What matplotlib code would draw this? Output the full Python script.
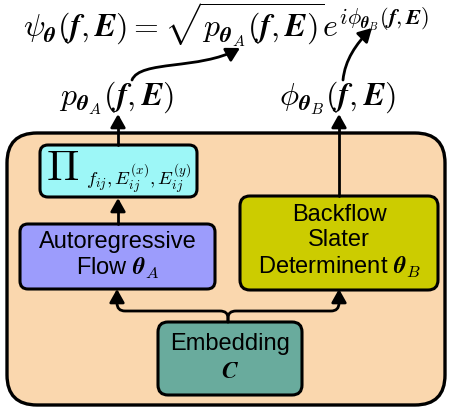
import matplotlib
matplotlib.use("Agg")
import matplotlib.pyplot as plt
from matplotlib.patches import FancyBboxPatch, FancyArrowPatch
from matplotlib.path import Path

plt.rcParams['mathtext.fontset'] = 'cm'
plt.rcParams['font.family'] = ['Liberation Sans', 'DejaVu Sans']

# labels of the diagram
title_eq = (r"$\psi_{\mathbfit{\theta}}(\mathbfit{f},\mathbfit{E})="
            r"\sqrt{p_{\mathbfit{\theta}_A}(\mathbfit{f},\mathbfit{E})}"
            r"e^{i\phi_{\mathbfit{\theta}_B}(\mathbfit{f},\mathbfit{E})}$")
p_label = r"$p_{\mathbfit{\theta}_A}(\mathbfit{f},\mathbfit{E})$"
phi_label = r"$\phi_{\mathbfit{\theta}_B}(\mathbfit{f},\mathbfit{E})$"
prod_symbol = r"$\Pi$"
prod_sub = r"$f_{ij},E_{ij}^{(x)},E_{ij}^{(y)}$"
flow_label = "Autoregressive\nFlow $\\mathbfit{\\theta}_A$"
slater_label = "Backflow\nSlater\nDeterminent $\\mathbfit{\\theta}_B$"
embed_label = "Embedding\n$\\mathbfit{C}$"

box_colors = {'outer': '#FAD7AE', 'prod': '#9DF7F7', 'flow': '#9C9CFC',
              'slater': '#CCCC00', 'embed': '#69AB9D'}

W, H = 449, 408
fig = plt.figure(figsize=(W / 100, H / 100), dpi=100)
ax = fig.add_axes([0, 0, 1, 1])
ax.set_xlim(0, W)
ax.set_ylim(H, 0)
ax.axis('off')

HEAD = '-|>,head_length=8,head_width=4.5'


def rbox(x0, y0, x1, y1, color, r, lw=2.2):
    p = FancyBboxPatch((x0, y0), x1 - x0, y1 - y0,
                       boxstyle=f"round,pad=0,rounding_size={r}",
                       fc=color, ec='black', lw=lw)
    ax.add_patch(p)


def arrow(path_pts, codes=None):
    path = Path(path_pts, codes)
    a = FancyArrowPatch(path=path, arrowstyle=HEAD,
                        color='black', lw=2.0, shrinkA=0, shrinkB=0)
    ax.add_patch(a)


# outer box
rbox(7, 133, 445, 405, box_colors['outer'], 30, lw=2.4)

# inner boxes
rbox(40, 145, 197, 197, box_colors['prod'], 8)
rbox(20, 224, 215, 289, box_colors['flow'], 8)
rbox(240, 196, 438, 290, box_colors['slater'], 10)
rbox(158, 322, 302, 395, box_colors['embed'], 10)

ax.text(46, 180, prod_symbol, fontsize=31, ha='left', va='baseline')
ax.text(86, 185, prod_sub, fontsize=13.5, ha='left', va='baseline')
ax.text(118, 256, flow_label, fontsize=17, ha='center', va='center',
        linespacing=1.15)
ax.text(339, 242, slater_label, fontsize=17, ha='center', va='center',
        linespacing=1.2)
ax.text(230, 358, embed_label, fontsize=17, ha='center', va='center',
        linespacing=1.35)

# output labels
ax.text(116, 98, p_label, fontsize=23, ha='center', va='center')
ax.text(337, 98, phi_label, fontsize=23, ha='center', va='center')
ax.text(226, 37, title_eq, fontsize=23, ha='center', va='baseline')

# vertical arrows
arrow([(118, 224), (118, 198)])
arrow([(118, 145), (118, 114)])
arrow([(339, 196), (339, 114)])

# branch from embedding
for xe in (117, 339):
    s = 1 if xe > 228 else -1
    pts = [(228, 322), (228, 318), (228, 311), (228 + s * 8, 311),
           (xe - s * 8, 311), (xe, 311), (xe, 303), (xe, 289)]
    codes = [Path.MOVETO, Path.LINETO, Path.CURVE3, Path.CURVE3,
             Path.LINETO, Path.CURVE3, Path.CURVE3, Path.LINETO]
    arrow(pts, codes)

# curved arrows to the equation
cub = [Path.MOVETO, Path.CURVE4, Path.CURVE4, Path.CURVE4]
arrow([(132, 80), (140, 60), (200, 70), (240, 48)], cub)
arrow([(343, 80), (345, 60), (356, 44), (372, 28)], cub)

fig.savefig('out.png', dpi=100)
